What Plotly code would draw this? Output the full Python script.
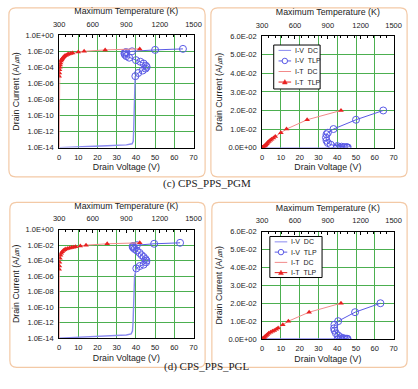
import plotly.graph_objects as go

# ---------------- data ----------------
# (c) CPS_PPS_PGM
pgm_dc_v = [0, 8, 15, 25, 35, 38, 38.6, 38.8, 39.0, 39.3, 39.6]
pgm_dc_i = [1e-14, 1.1e-14, 1.4e-14, 1.7e-14, 2.2e-14, 3e-14, 6e-14, 1e-12, 1e-9, 1e-6, 8e-6]
pgm_tlp_v = [39.7, 41.2, 43.5, 45.0, 45.6, 45.2, 44.0, 42.3, 40.0, 36.5, 35.0, 34.3, 34.0, 34.3, 35.0, 38.0, 50.0, 64.5]
pgm_tlp_i = [8e-6, 2e-5, 4e-5, 7e-5, 1.1e-4, 1.6e-4, 3e-4, 5e-4, 8e-4, 1.6e-3, 2.5e-3, 3.7e-3, 5.4e-3, 7.2e-3, 8.0e-3, 1e-2, 1.5e-2, 2e-2]
pgm_it_t = [300, 302, 303, 306, 309, 312, 317, 322, 327, 334, 343, 351, 362, 374, 386, 403, 420, 471, 523, 711, 1020]
pgm_it_i = [8e-6, 2e-5, 5e-5, 1e-4, 2e-4, 3.5e-4, 6e-4, 9e-4, 1.2e-3, 1.6e-3, 2.1e-3, 2.7e-3, 3.3e-3, 3.9e-3, 4.5e-3, 5.2e-3, 6e-3, 8e-3, 1e-2, 1.5e-2, 2e-2]
pgm_itdc_t = [300, 300, 302, 306, 317, 334, 362, 403, 471, 523, 711, 1020]
pgm_itdc_i = [1e-14, 5e-6, 2e-5, 1e-4, 6e-4, 1.6e-3, 3.3e-3, 5.2e-3, 8e-3, 1e-2, 1.5e-2, 2e-2]

# (d) CPS_PPS_PGL
pgl_dc_v = [0, 8, 15, 25, 35, 37.5, 38.2, 38.5, 38.8, 39.3, 40.2]
pgl_dc_i = [1e-14, 1.2e-14, 1.5e-14, 1.9e-14, 2.5e-14, 3.5e-14, 8e-14, 1e-12, 1e-9, 1e-6, 1e-5]
pgl_tlp_v = [40.2, 42.0, 44.0, 45.3, 45.5, 45.0, 44.0, 43.0, 41.9, 40.5, 39.3, 38.6, 38.3, 38.5, 40.5, 49.5, 63.0]
pgl_tlp_i = [1e-5, 2e-5, 3e-5, 6e-5, 1e-4, 1.6e-4, 3e-4, 5e-4, 1e-3, 2e-3, 3.2e-3, 4.7e-3, 6e-3, 8e-3, 1e-2, 1.5e-2, 2e-2]
pgl_it_t = [300, 302, 303, 307, 312, 319, 327, 338, 348, 360, 377, 394, 411, 429, 446, 489, 540, 729, 1020]
pgl_it_i = [8e-6, 2e-5, 6e-5, 2e-4, 5e-4, 9e-4, 1.4e-3, 2e-3, 2.6e-3, 3.2e-3, 3.8e-3, 4.3e-3, 4.8e-3, 5.5e-3, 6.2e-3, 8e-3, 1e-2, 1.5e-2, 2e-2]
pgl_itdc_t = [300, 300, 303, 312, 327, 348, 377, 411, 446, 489, 540, 729, 1020]
pgl_itdc_i = [1e-14, 5e-6, 6e-5, 5e-4, 1.4e-3, 2.6e-3, 3.8e-3, 4.8e-3, 6.2e-3, 8e-3, 1e-2, 1.5e-2, 2e-2]

log_tickvals = [1e0, 1e-2, 1e-4, 1e-6, 1e-8, 1e-10, 1e-12, 1e-14]
log_ticktext = ["1.0E+00", "1.0E-02", "1.0E-04", "1.0E-06", "1.0E-08", "1.0E-10", "1.0E-12", "1.0E-14"]
lin_tickvals = [0, 0.01, 0.02, 0.03, 0.04, 0.05, 0.06]
lin_ticktext = ["0.0E+00", "1.0E-02", "2.0E-02", "3.0E-02", "4.0E-02", "5.0E-02", "6.0E-02"]
legend_names = ["I-V\u00a0\u00a0DC", "I-V\u00a0\u00a0TLP", "I-T\u00a0\u00a0DC", "I-T\u00a0\u00a0TLP"]
captions = ["(c) CPS_PPS_PGM", "(d) CPS_PPS_PGL"]

# ---------------- layout helpers ----------------
W, H = 418, 389
def px(x):
    return x / W
def py(y):
    return 1 - y / H

# plot areas in pixels: (x0, x1, ytop, ybottom)
areas = {
    1: (55, 194, 32, 147),
    2: (265, 401, 33, 147),
    3: (55, 194, 231, 342),
    4: (265, 401, 233, 343),
}
frames = [(3, 4, 206, 177), (212, 4, 415, 177), (4, 203, 206, 372), (213, 203, 415, 372)]
# legend boxes: (x0, y0, x1, y1, first row y, row step)
legend_boxes = [(277, 42, 325, 87, 47.5, 10.8), (273, 238, 327, 280, 243.5, 10.5)]

FONT = "Liberation Sans, Arial, sans-serif"
BLUE_DC = "#8a8af0"
BLUE = "#5a5ae6"
RED = "#e82020"
PINK = "#f28a8a"
GRID = "#4caf50"
TICK_SIZE = 7.5
TITLE_SIZE = 8.8

fig = go.Figure()

panels = [
    (1, "log", pgm_dc_v, pgm_dc_i, pgm_tlp_v, pgm_tlp_i, pgm_it_t, pgm_it_i, pgm_itdc_t, pgm_itdc_i),
    (2, "lin", pgm_dc_v, pgm_dc_i, pgm_tlp_v, pgm_tlp_i, pgm_it_t, pgm_it_i, pgm_itdc_t, pgm_itdc_i),
    (3, "log", pgl_dc_v, pgl_dc_i, pgl_tlp_v, pgl_tlp_i, pgl_it_t, pgl_it_i, pgl_itdc_t, pgl_itdc_i),
    (4, "lin", pgl_dc_v, pgl_dc_i, pgl_tlp_v, pgl_tlp_i, pgl_it_t, pgl_it_i, pgl_itdc_t, pgl_itdc_i),
]

for (k, kind, dcv, dci, tv, ti, itt, iti, itdt, itdi) in panels:
    xa = "x" if k == 1 else f"x{k}"
    ya = "y" if k == 1 else f"y{k}"
    xt = f"x{k+4}"
    fig.add_trace(go.Scatter(x=dcv, y=dci, xaxis=xa, yaxis=ya, mode="lines",
                             line=dict(color=BLUE_DC, width=1.4), name=legend_names[0],
                             showlegend=False))
    fig.add_trace(go.Scatter(x=tv, y=ti, xaxis=xa, yaxis=ya, mode="lines+markers",
                             line=dict(color=BLUE, width=1),
                             marker=dict(symbol="circle-open", size=7, color=BLUE, line=dict(width=1)),
                             name=legend_names[1], showlegend=False))
    fig.add_trace(go.Scatter(x=itdt, y=itdi, xaxis=xt, yaxis=ya, mode="lines",
                             line=dict(color=PINK, width=1), name=legend_names[2],
                             showlegend=False))
    fig.add_trace(go.Scatter(x=itt, y=iti, xaxis=xt, yaxis=ya, mode="markers",
                             marker=dict(symbol="triangle-up", size=5, color=RED),
                             name=legend_names[3], showlegend=False))

layout = dict(
    width=W, height=H, margin=dict(l=0, r=0, t=0, b=0),
    paper_bgcolor="white", plot_bgcolor="white",
    font=dict(family=FONT, size=8, color="#222"),
)

for k, (x0, x1, yt, yb) in areas.items():
    xn = "xaxis" if k == 1 else f"xaxis{k}"
    yn = "yaxis" if k == 1 else f"yaxis{k}"
    ya = "y" if k == 1 else f"y{k}"
    xa = "x" if k == 1 else f"x{k}"
    layout[xn] = dict(domain=[px(x0), px(x1)], anchor=ya, range=[0, 70], dtick=10,
                      showgrid=True, gridcolor=GRID, gridwidth=1,
                      showline=True, mirror=True, linecolor="black", linewidth=1,
                      zeroline=False, ticks="", tickfont=dict(size=TICK_SIZE, family=FONT),
                      ticklabelstandoff=2,
                      title=dict(text="Drain Voltage (V)", font=dict(size=TITLE_SIZE, family=FONT), standoff=3))
    if k in (1, 3):
        yax = dict(type="log", range=[-14, 0], tickvals=log_tickvals, ticktext=log_ticktext)
    else:
        yax = dict(range=[0, 0.06], tickvals=lin_tickvals, ticktext=lin_ticktext)
    yax.update(domain=[py(yb), py(yt)], anchor=xa, showgrid=True, gridcolor=GRID, gridwidth=1,
               showline=True, mirror=True, linecolor="black", linewidth=1, zeroline=False,
               ticks="", tickfont=dict(size=TICK_SIZE, family=FONT), ticklabelstandoff=3,
               title=dict(text="Drain Current (A/㎛)", font=dict(size=TITLE_SIZE, family=FONT), standoff=4))
    layout[yn] = yax
    layout[f"xaxis{k+4}"] = dict(overlaying=xa, side="top", anchor=ya, range=[300, 1500], dtick=300,
                                 showgrid=False, zeroline=False, showline=False,
                                 ticks="inside", ticklen=3, tickcolor="black",
                                 ticklabelstandoff=6,
                                 minor=dict(dtick=60, ticks="inside", ticklen=2, tickcolor="black"),
                                 tickfont=dict(size=TICK_SIZE, family=FONT),
                                 title=dict(text="Maximum Temperature (K)", font=dict(size=TITLE_SIZE, family=FONT), standoff=3))

def rounded_path(x0, y0, x1, y1, r):
    X0, X1 = px(x0), px(x1)
    Y0, Y1 = py(y0), py(y1)
    rx, ry = r / W, r / H
    return (f"M {X0+rx},{Y0} L {X1-rx},{Y0} Q {X1},{Y0} {X1},{Y0-ry} "
            f"L {X1},{Y1+ry} Q {X1},{Y1} {X1-rx},{Y1} L {X0+rx},{Y1} "
            f"Q {X0},{Y1} {X0},{Y1+ry} L {X0},{Y0-ry} Q {X0},{Y0} {X0+rx},{Y0} Z")

shapes = []
annotations = []
for (a, b, c, d) in frames:
    shapes.append(dict(type="path", xref="paper", yref="paper", path=rounded_path(a, b, c, d, 7),
                       line=dict(color="#f3c9a6", width=1.2), layer="below"))

# legend (drawn as key shapes + text)
key_styles = [
    dict(line=BLUE_DC, marker=None),
    dict(line=BLUE, marker="circle"),
    dict(line=PINK, marker=None),
    dict(line=RED, marker="triangle"),
]
for (lx0, ly0, lx1, ly1, r0, step) in legend_boxes:
    shapes.append(dict(type="rect", xref="paper", yref="paper", x0=px(lx0), x1=px(lx1), y0=py(ly1), y1=py(ly0),
                       line=dict(color="black", width=1), fillcolor="white", layer="above"))
    for i, st in enumerate(key_styles):
        yy = r0 + i * step
        sx0, sx1 = lx0 + 5, lx0 + 18
        shapes.append(dict(type="line", xref="paper", yref="paper", x0=px(sx0), x1=px(sx1), y0=py(yy), y1=py(yy),
                           line=dict(color=st["line"], width=1), layer="above"))
        cx = (sx0 + sx1) / 2
        if st["marker"] == "circle":
            shapes.append(dict(type="circle", xref="paper", yref="paper", x0=px(cx - 2.8), x1=px(cx + 2.8),
                               y0=py(yy + 2.8), y1=py(yy - 2.8), line=dict(color=BLUE, width=1),
                               fillcolor="white", layer="above"))
        elif st["marker"] == "triangle":
            shapes.append(dict(type="path", xref="paper", yref="paper",
                               path=f"M {px(cx-2.5)},{py(yy+2)} L {px(cx+2.5)},{py(yy+2)} L {px(cx)},{py(yy-2.5)} Z",
                               line=dict(color=RED, width=0.5), fillcolor=RED, layer="above"))
        annotations.append(dict(text=legend_names[i], x=px(sx1 + 2), y=py(yy), xref="paper", yref="paper",
                                xanchor="left", yanchor="middle", showarrow=False,
                                font=dict(family=FONT, size=7, color="#222")))

layout["shapes"] = shapes

annotations += [
    dict(text=captions[0], x=px(208), y=py(184), xref="paper", yref="paper", showarrow=False,
         font=dict(family="Liberation Serif, Times New Roman, serif", size=11, color="#222")),
    dict(text=captions[1], x=px(208), y=py(380), xref="paper", yref="paper", showarrow=False,
         font=dict(family="Liberation Serif, Times New Roman, serif", size=11, color="#222")),
]
layout["annotations"] = annotations

fig.update_layout(**layout)
fig.write_html("out.html")
